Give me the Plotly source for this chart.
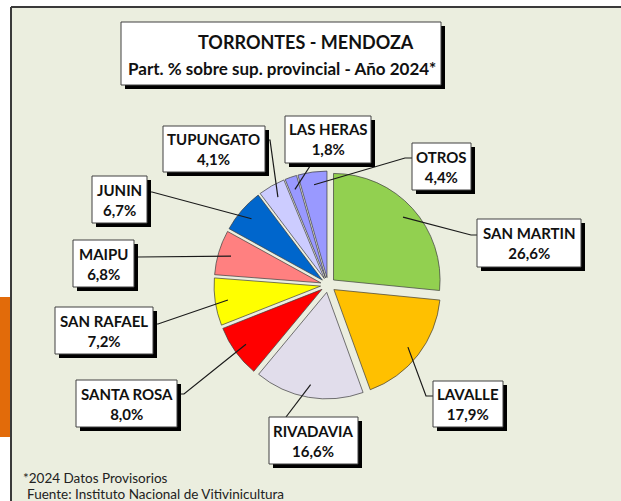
import math
import plotly.graph_objects as go

# ---------------- data ----------------
regions = ["SAN MARTIN", "LAVALLE", "RIVADAVIA", "SANTA ROSA", "SAN RAFAEL",
           "MAIPU", "JUNIN", "TUPUNGATO", "LAS HERAS", "OTROS"]
shares = [26.6, 17.9, 16.6, 8.0, 7.2, 6.8, 6.7, 4.1, 1.8, 4.4]
colors = ["#92D050", "#FFC000", "#E1DDEB", "#FF0000", "#FFFF00",
          "#FF8080", "#0066CC", "#CCCCFF", "#9999FF", "#9999FF"]
title_lines = ["TORRONTES - MENDOZA", "Part. % sobre sup. provincial - Año 2024*"]
notes = ["*2024 Datos Provisorios", "Fuente: Instituto Nacional de Vitivinicultura"]

# ---------------- layout helpers (pixel -> paper) ----------------
W, H = 621, 501
def X(px): return px / W
def Y(py): return 1 - py / H

FONT = "Lato, Calibri, Carlito, 'Open Sans', sans-serif"
PANEL = "#EBEEDF"

# label boxes: (x0, y0, x1, y1) in px, the point where the leader meets the box, and a stub point
boxes = {
    "SAN MARTIN": ((477, 219, 581, 267), (477, 235), (471, 235)),
    "LAVALLE":    ((433, 381, 503, 427), (433, 396), (426, 396)),
    "RIVADAVIA":  ((269, 417, 358, 464), (286, 417), (286, 417)),
    "SANTA ROSA": ((76, 380, 177, 427), (177, 394), (184, 394)),
    "SAN RAFAEL": ((55, 307, 153, 354), (153, 324), (158, 324)),
    "MAIPU":      ((73, 240, 134, 287), (134, 257), (138, 257)),
    "JUNIN":      ((92, 176, 147, 223), (147, 192), (152, 192)),
    "TUPUNGATO":  ((163, 126, 265, 172), (265, 140), (270, 140)),
    "LAS HERAS":  ((285, 116, 371, 163), (312, 163), (312, 163)),
    "OTROS":      ((412, 143, 471, 190), (412, 158), (405, 158)),
}

# pie geometry
cx, cy = 328, 285
half = 114
pull = 0.07
r = half / (1 + pull)

fig = go.Figure(go.Pie(
    labels=regions, values=shares, sort=False, direction="clockwise", rotation=0,
    marker=dict(colors=colors, line=dict(color="#3c3c3c", width=0.7)),
    pull=pull, textinfo="none", hoverinfo="label+value", showlegend=False,
    domain=dict(x=[X(cx - half), X(cx + half)], y=[Y(cy + half), Y(cy - half)]),
))

shapes = []
# white page strips outside the panel (top and left), panel border lines
shapes.append(dict(type="rect", xref="paper", yref="paper", x0=-0.01, x1=1.01, y0=Y(7), y1=1.01,
                   fillcolor="#FFFFFF", line=dict(width=0), layer="below"))
shapes.append(dict(type="rect", xref="paper", yref="paper", x0=-0.01, x1=X(11), y0=-0.01, y1=1.01,
                   fillcolor="#FFFFFF", line=dict(width=0), layer="below"))
shapes.append(dict(type="line", xref="paper", yref="paper", x0=X(11), x1=1.01, y0=Y(7), y1=Y(7),
                   line=dict(color="#3A3A3A", width=2), layer="below"))
shapes.append(dict(type="line", xref="paper", yref="paper", x0=X(11), x1=X(11), y0=-0.01, y1=Y(7),
                   line=dict(color="#3A3A3A", width=2), layer="below"))
# orange side tab
shapes.append(dict(type="rect", xref="paper", yref="paper", x0=-0.01, x1=X(10), y0=Y(437), y1=Y(297),
                   fillcolor="#E26B0A", line=dict(width=0), layer="below"))

# leader lines
total = sum(shares)
cum = 0.0
for name, v in zip(regions, shares):
    mid = (cum + v / 2) / total * 2 * math.pi
    cum += v
    rr = r * (1 + pull) - r * 0.12
    px = cx + rr * math.sin(mid)
    py = cy - rr * math.cos(mid)
    (_, anchor, stub) = boxes[name]
    shapes.append(dict(type="path", xref="paper", yref="paper",
                       path=f"M {X(px)} {Y(py)} L {X(stub[0])} {Y(stub[1])} L {X(anchor[0])} {Y(anchor[1])}",
                       line=dict(color="#1a1a1a", width=1.2), layer="above"))

annotations = []
def add_box(x0, y0, x1, y1):
    shapes.append(dict(type="rect", xref="paper", yref="paper", x0=X(x0 + 4), x1=X(x1 + 4), y0=Y(y1 + 4), y1=Y(y0 + 4),
                       fillcolor="#000000", line=dict(width=0), layer="above"))
    shapes.append(dict(type="rect", xref="paper", yref="paper", x0=X(x0), x1=X(x1), y0=Y(y1), y1=Y(y0),
                       fillcolor="#FFFFFF", line=dict(color="#404040", width=1), layer="above"))

for name, v in zip(regions, shares):
    (bx0, by0, bx1, by1), _, _ = boxes[name]
    add_box(bx0, by0, bx1, by1)
    pct = f"{v:.1f}%".replace(".", ",")
    annotations.append(dict(xref="paper", yref="paper", x=X((bx0 + bx1) / 2), y=Y((by0 + by1) / 2),
                            text=f"<b>{name}</b><br><b>{pct}</b>", showarrow=False,
                            xanchor="center", yanchor="middle", align="center",
                            font=dict(family=FONT, size=15, color="#111111")))

# title box
add_box(121, 22, 441, 85)
annotations.append(dict(xref="paper", yref="paper", x=X(306), y=Y(42), text=f"<b>{title_lines[0]}</b>",
                        showarrow=False, xanchor="center", yanchor="middle",
                        font=dict(family=FONT, size=18, color="#111111")))
annotations.append(dict(xref="paper", yref="paper", x=X(282), y=Y(68), text=f"<b>{title_lines[1]}</b>",
                        showarrow=False, xanchor="center", yanchor="middle",
                        font=dict(family=FONT, size=17, color="#111111")))

# footnotes
annotations.append(dict(xref="paper", yref="paper", x=X(21), y=Y(478), text=notes[0], showarrow=False,
                        xanchor="left", yanchor="middle", font=dict(family=FONT, size=13.5, color="#222222")))
annotations.append(dict(xref="paper", yref="paper", x=X(25), y=Y(494), text=notes[1], showarrow=False,
                        xanchor="left", yanchor="middle", font=dict(family=FONT, size=13.5, color="#222222")))

fig.update_layout(
    width=W, height=H, margin=dict(l=0, r=0, t=0, b=0),
    paper_bgcolor=PANEL, plot_bgcolor=PANEL,
    shapes=shapes, annotations=annotations, showlegend=False,
)

fig.write_html("out.html", config={"displayModeBar": False},
               post_script=("document.documentElement.style.margin='0';"
                            "document.documentElement.style.overflow='hidden';"
                            "document.body.style.margin='0';document.body.style.overflow='hidden';"))
